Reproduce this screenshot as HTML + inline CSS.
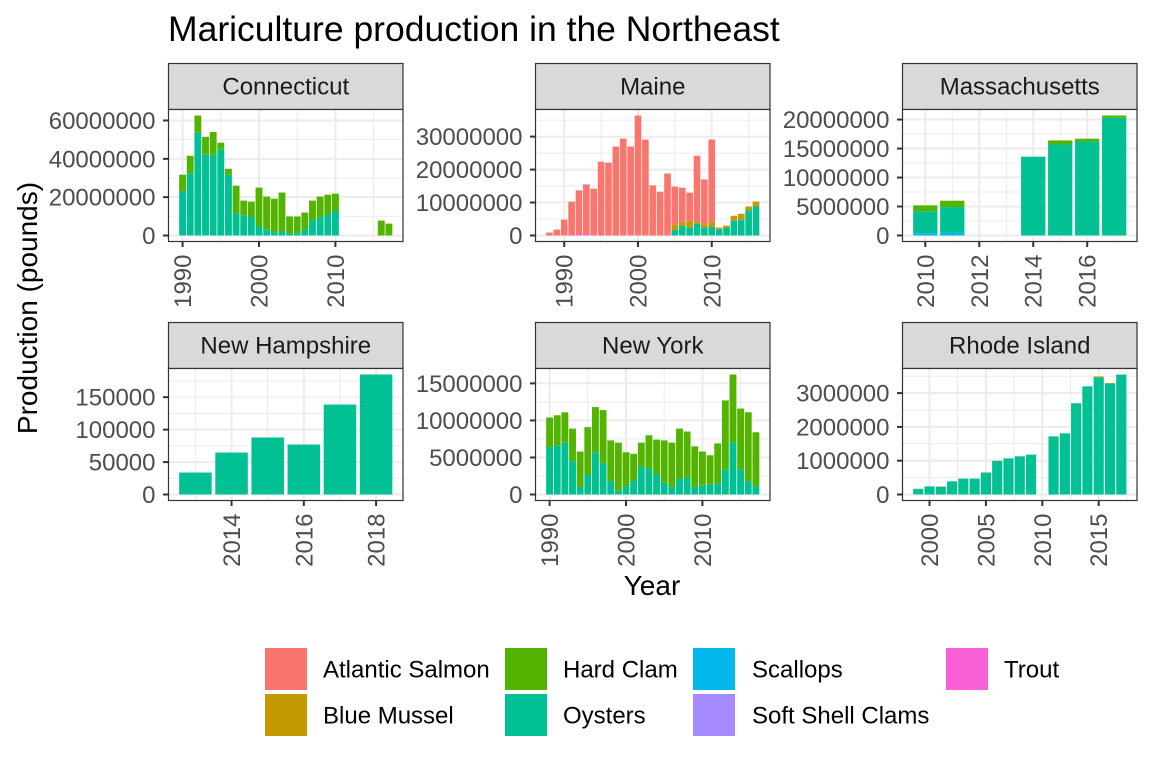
<!DOCTYPE html>
<html><head><meta charset="utf-8"><style>
body{margin:0;background:#fff;}
svg{display:block;font-family:"Liberation Sans",Arial,sans-serif;}
</style></head><body>
<svg id="chart" width="1152" height="768" viewBox="0 0 1152 768">
<text x="168" y="41" font-size="35.5" fill="#000">Mariculture production in the Northeast</text>
<text transform="translate(37,308) rotate(-90)" text-anchor="middle" font-size="28" fill="#000">Production (pounds)</text>
<text x="652" y="595" text-anchor="middle" font-size="28" fill="#000">Year</text>
<g id="panels"></g>
<g id="legend"></g>
</svg>
<script>
// ---- data (millions of pounds unless noted) ----
const ctYears = [1990,1991,1992,1993,1994,1995,1996,1997,1998,1999,2000,2001,2002,2003,2004,2005,2006,2007,2008,2009,2010,2016,2017];
const ctOysters = [23,32.4,53.6,42.1,42.1,45.2,31.7,11.6,10.6,9.9,4.7,3.3,1.6,2.3,1,1.2,3.3,7.8,9.5,10.9,13,0,0];
const ctHardClam = [8.7,9.2,9,9.4,11.9,3.2,3.1,14.4,7.6,7.8,20.3,17,17.6,20.1,8.9,8.7,8.7,10.4,10.8,10.4,8.8,7.8,6.2];

const meYears = [1988,1989,1990,1991,1992,1993,1994,1995,1996,1997,1998,1999,2000,2001,2002,2003,2004,2005,2006,2007,2008,2009,2010,2011,2012,2013,2014,2015,2016];
const meSalmon = [0.9,1.8,4.8,10,13.4,15.2,13.9,22.4,22.1,27,29.4,26.8,36.4,29.1,15.2,13.3,18.8,11.5,10.3,8.5,20,13.7,24.9,0,0,0,0,0,0];
const meMussel = [0,0,0,0,0,0,0,0,0,0,0,0,0,0,0,0,0,1.5,1.2,2.1,0.6,0.9,1.5,0.6,0.6,1.5,1.8,1.2,1.5];
const meOysters = [0,0,0,0,0,0,0,0,0,0,0,0,0,0,0,0,0,1.8,3,2.4,3.6,2.4,2.7,1.8,2.4,4.5,4.8,7.6,8.8];
const meTrout = [0,0,0,0.3,0.3,0.3,0.3,0,0,0,0,0.2,0,0,0,0,0,0,0,0,0,0,0,0,0,0,0,0,0];

const maYears = [2010,2011,2014,2015,2016,2017];
const maScallops = [0.4,0.5,0,0,0,0];
const maOysters = [3.8,4.4,13.6,15.7,16.2,20.3];
const maHardClam = [1,1.1,0,0.7,0.5,0.4];

const nhYears = [2013,2014,2015,2016,2017,2018];
const nhOysters = [0.0339,0.0647,0.0879,0.077,0.1387,0.185];

const nyYears = [1990,1991,1992,1993,1994,1995,1996,1997,1998,1999,2000,2001,2002,2003,2004,2005,2006,2007,2008,2009,2010,2011,2012,2013,2014,2015,2016,2017];
const nyOysters = [6.4,6.6,7,4.5,1,2.7,5.7,4.2,1.8,0.5,1.1,1.9,3.8,3.5,2.7,1.6,1,2.1,2.3,1,1.3,1.3,1.5,3.4,7,3.4,1.8,1.1];
const nyHardClam = [4,4.1,4.1,4.4,4.8,6.4,6.1,7.2,5.5,6.5,4.6,3.6,3.2,4.5,4.7,5.7,6,6.8,6.2,5.5,4.5,4,5.4,9.3,9.2,8.2,9.3,7.3];

const riYears = [1999,2000,2001,2002,2003,2004,2005,2006,2007,2008,2009,2011,2012,2013,2014,2015,2016,2017];
const riOysters = [0.16,0.24,0.23,0.39,0.47,0.47,0.65,0.99,1.07,1.13,1.18,1.72,1.81,2.7,3.2,3.46,3.28,3.55];
const riMussel = [0.01,0,0.01,0,0,0,0,0.01,0,0,0,0,0,0,0,0.03,0.02,0];

const ctYTicks = [0,20,40,60]; const ctYLabels = ["0","20000000","40000000","60000000"];
const meYTicks = [0,10,20,30]; const meYLabels = ["0","10000000","20000000","30000000"];
const maYTicks = [0,5,10,15,20]; const maYLabels = ["0","5000000","10000000","15000000","20000000"];
const nhYTicks = [0,0.05,0.1,0.15]; const nhYLabels = ["0","50000","100000","150000"];
const nyYTicks = [0,5,10,15]; const nyYLabels = ["0","5000000","10000000","15000000"];
const riYTicks = [0,1,2,3]; const riYLabels = ["0","1000000","2000000","3000000"];
const ctXTicks = [1990,2000,2010];
const meXTicks = [1990,2000,2010];
const maXTicks = [2010,2012,2014,2016];
const nhXTicks = [2014,2016,2018];
const nyXTicks = [1990,2000,2010];
const riXTicks = [2000,2005,2010,2015];

const speciesNames = ["Atlantic Salmon","Blue Mussel","Hard Clam","Oysters","Scallops","Soft Shell Clams","Trout"];
const speciesColors = ["#F8766D","#C49A00","#53B400","#00C094","#00B6EB","#A58AFF","#FB61D7"];
const stackOrder = ["Trout","Soft Shell Clams","Scallops","Oysters","Hard Clam","Blue Mussel","Atlantic Salmon"];

const panels = [
 {name:"Connecticut",col:0,row:0,years:ctYears,series:{"Oysters":ctOysters,"Hard Clam":ctHardClam},yt:ctYTicks,yl:ctYLabels,xt:ctXTicks},
 {name:"Maine",col:1,row:0,years:meYears,series:{"Trout":meTrout,"Oysters":meOysters,"Blue Mussel":meMussel,"Atlantic Salmon":meSalmon},yt:meYTicks,yl:meYLabels,xt:meXTicks},
 {name:"Massachusetts",col:2,row:0,years:maYears,series:{"Scallops":maScallops,"Oysters":maOysters,"Hard Clam":maHardClam},yt:maYTicks,yl:maYLabels,xt:maXTicks},
 {name:"New Hampshire",col:0,row:1,years:nhYears,series:{"Oysters":nhOysters},yt:nhYTicks,yl:nhYLabels,xt:nhXTicks},
 {name:"New York",col:1,row:1,years:nyYears,series:{"Oysters":nyOysters,"Hard Clam":nyHardClam},yt:nyYTicks,yl:nyYLabels,xt:nyXTicks},
 {name:"Rhode Island",col:2,row:1,years:riYears,series:{"Oysters":riOysters,"Blue Mussel":riMussel},yt:riYTicks,yl:riYLabels,xt:riXTicks}
];

const NS="http://www.w3.org/2000/svg";
function mk(tag,attrs,parent){const e=document.createElementNS(NS,tag);for(const k in attrs)e.setAttribute(k,attrs[k]);parent.appendChild(e);return e;}
const colLeft=[168.5,535.5,902.5], panelW=234.5;
const rowStripTop=[63.5,322.5], stripH=46, panelH=132;
const FS=24;
const root=document.getElementById('panels');

panels.forEach(p=>{
  const slug=p.name.toLowerCase().replace(/ /g,'-');
  const g=mk('g',{},root);
  
  
  const L=colLeft[p.col], T=rowStripTop[p.row]+stripH, R=L+panelW, B=T+panelH;
  const minY=Math.min(...p.years), maxY=Math.max(...p.years);
  const w=maxY-minY+0.9;
  const x0=minY-0.45-0.05*w, x1=maxY+0.45+0.05*w;
  const totals=p.years.map((_,i)=>Object.values(p.series).reduce((s,a)=>s+a[i],0));
  const mt=Math.max(...totals);
  const y0=-0.05*mt, y1=1.05*mt;
  const xs=v=>L+(v-x0)/(x1-x0)*panelW;
  const ys=v=>B-(v-y0)/(y1-y0)*panelH;
  const st=mk('rect',{x:L,y:rowStripTop[p.row],width:panelW,height:stripH,fill:"#D9D9D9",stroke:"#333333","stroke-width":1.2},g);
  
  
  const stt=mk('text',{x:L+panelW/2,y:rowStripTop[p.row]+31,"text-anchor":"middle","font-size":FS,fill:"#1A1A1A"},g);
  stt.textContent=p.name;
  
  
  mk('rect',{x:L,y:T,width:panelW,height:panelH,fill:"#fff"},g);
  const grid=mk('g',{},g);
  
  
  const ystep=p.yt[1]-p.yt[0];
  for(let v=p.yt[0]-ystep/2; v<=y1+ystep; v+=ystep/2){
    const yy=ys(v); if(yy<T||yy>B) continue;
    const major=Math.abs(((v-p.yt[0])/ystep)%1)<1e-6;
    mk('line',{x1:L,x2:R,y1:yy,y2:yy,stroke:"#EBEBEB","stroke-width":major?2:1},grid);
  }
  const xstep=p.xt[1]-p.xt[0];
  for(let v=p.xt[0]-xstep; v<=x1+xstep; v+=xstep/2){
    const xx=xs(v); if(xx<L||xx>R) continue;
    const major=Math.abs(((v-p.xt[0])/xstep)%1)<1e-6;
    mk('line',{x1:xx,x2:xx,y1:T,y2:B,stroke:"#EBEBEB","stroke-width":major?2:1},grid);
  }
  p.years.forEach((yr,i)=>{
    let base=0;
    stackOrder.forEach(sp=>{
      const arr=p.series[sp]; if(!arr) return;
      const v=arr[i]; if(!v) return;
      const r=mk('rect',{x:xs(yr-0.45),width:xs(yr+0.45)-xs(yr-0.45),y:ys(base+v),height:ys(base)-ys(base+v),fill:speciesColors[speciesNames.indexOf(sp)]},g);
      
      
      base+=v;
    });
  });
  mk('rect',{x:L,y:T,width:panelW,height:panelH,fill:"none",stroke:"#333333","stroke-width":1.2},g);
  const ya=mk('g',{},g);
  
  
  p.yt.forEach((v,i)=>{
    const yy=ys(v);
    mk('line',{x1:L-5.5,x2:L,y1:yy,y2:yy,stroke:"#333333","stroke-width":2},ya);
    const t=mk('text',{x:L-13,y:yy+8.5,"text-anchor":"end","font-size":FS,fill:"#4D4D4D"},ya);
    t.textContent=p.yl[i];
  });
  const xa=mk('g',{},g);
  
  
  p.xt.forEach(v=>{
    const xx=xs(v);
    mk('line',{x1:xx,x2:xx,y1:B,y2:B+5.5,stroke:"#333333","stroke-width":2},xa);
    const t=mk('text',{transform:`translate(${xx+8.5},${B+13}) rotate(-90)`,"text-anchor":"end","font-size":FS,fill:"#4D4D4D"},xa);
    t.textContent=String(v);
  });
});

const lg=document.getElementById('legend');
const legendOrder=[["Atlantic Salmon",265,323,648],["Blue Mussel",265,323,694],["Hard Clam",505,563,648],["Oysters",505,563,694],["Scallops",693,752,648],["Soft Shell Clams",693,752,694],["Trout",946,1004,648]];
legendOrder.forEach(([n,kx,tx,ky])=>{
  const e=mk('g',{},lg);
  
  
  mk('rect',{x:kx,y:ky,width:42,height:42,fill:speciesColors[speciesNames.indexOf(n)]},e);
  const t=mk('text',{x:tx,y:ky+29.5,"font-size":FS,fill:"#000"},e);
  t.textContent=n;
});
</script>
</body></html>
